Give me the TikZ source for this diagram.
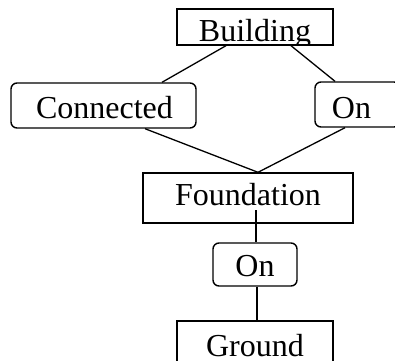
\documentclass[tikz,border=0pt]{standalone}
\usepackage{fontspec}
\setmainfont{Liberation Serif}
\begin{document}
\begin{tikzpicture}[x=1pt,y=1pt,
  frame/.style={draw, line width=1.4pt, inner sep=0pt},
  rframe/.style={frame, rounded corners=6pt},
  lbl/.style n args={3}{path picture={
    \node[anchor=base, inner sep=0pt, font=\fontsize{32}{38}\selectfont]
      at ([shift={(#2,#3)}]path picture bounding box.south) {#1};}},
  link/.style={line width=1.3pt}]
\useasboundingbox (0,0) rectangle (395,360);
\clip (0,0) rectangle (395,360);
\fill[white] (0,0) rectangle (395,360);

% boxes, each label clipped to its own frame
\node[frame, minimum width=156pt, minimum height=36pt, lbl={Building}{0pt}{4pt}]
  (bld) at (255,333) {};
\node[rframe, minimum width=185pt, minimum height=45pt, lbl={Connected}{1pt}{10pt}]
  (con) at (103.5,254.5) {};
\node[rframe, minimum width=85pt, minimum height=45pt, lbl={On}{-6pt}{9pt}]
  (onA) at (357.5,255.5) {};
\node[frame, minimum width=210pt, minimum height=50pt, lbl={Foundation}{0pt}{18pt}]
  (fnd) at (248,162) {};
\node[rframe, minimum width=84pt, minimum height=43pt, lbl={On}{0pt}{10pt}]
  (onB) at (255,95.5) {};
\node[frame, minimum width=156pt, minimum height=54pt, lbl={Ground}{0pt}{18.5pt}]
  (gnd) at (255,12) {};

% connectors
\draw[link] ([xshift=-29pt]bld.south) -- ([xshift=58.5pt]con.north);
\draw[link] ([xshift=36pt]bld.south) -- ([xshift=-22.5pt]onA.north);
\draw[link] ([xshift=41.5pt]con.south) -- ([xshift=10pt]fnd.north);
\draw[link] ([xshift=-12.5pt]onA.south) -- ([xshift=10pt]fnd.north);
\draw[link] ([shift={(8pt,-12pt)}]fnd.center) -- ([xshift=1pt]onB.north);
\draw[link] ([xshift=2pt]onB.south) -- ([xshift=2pt]gnd.north);
\end{tikzpicture}
\end{document}
